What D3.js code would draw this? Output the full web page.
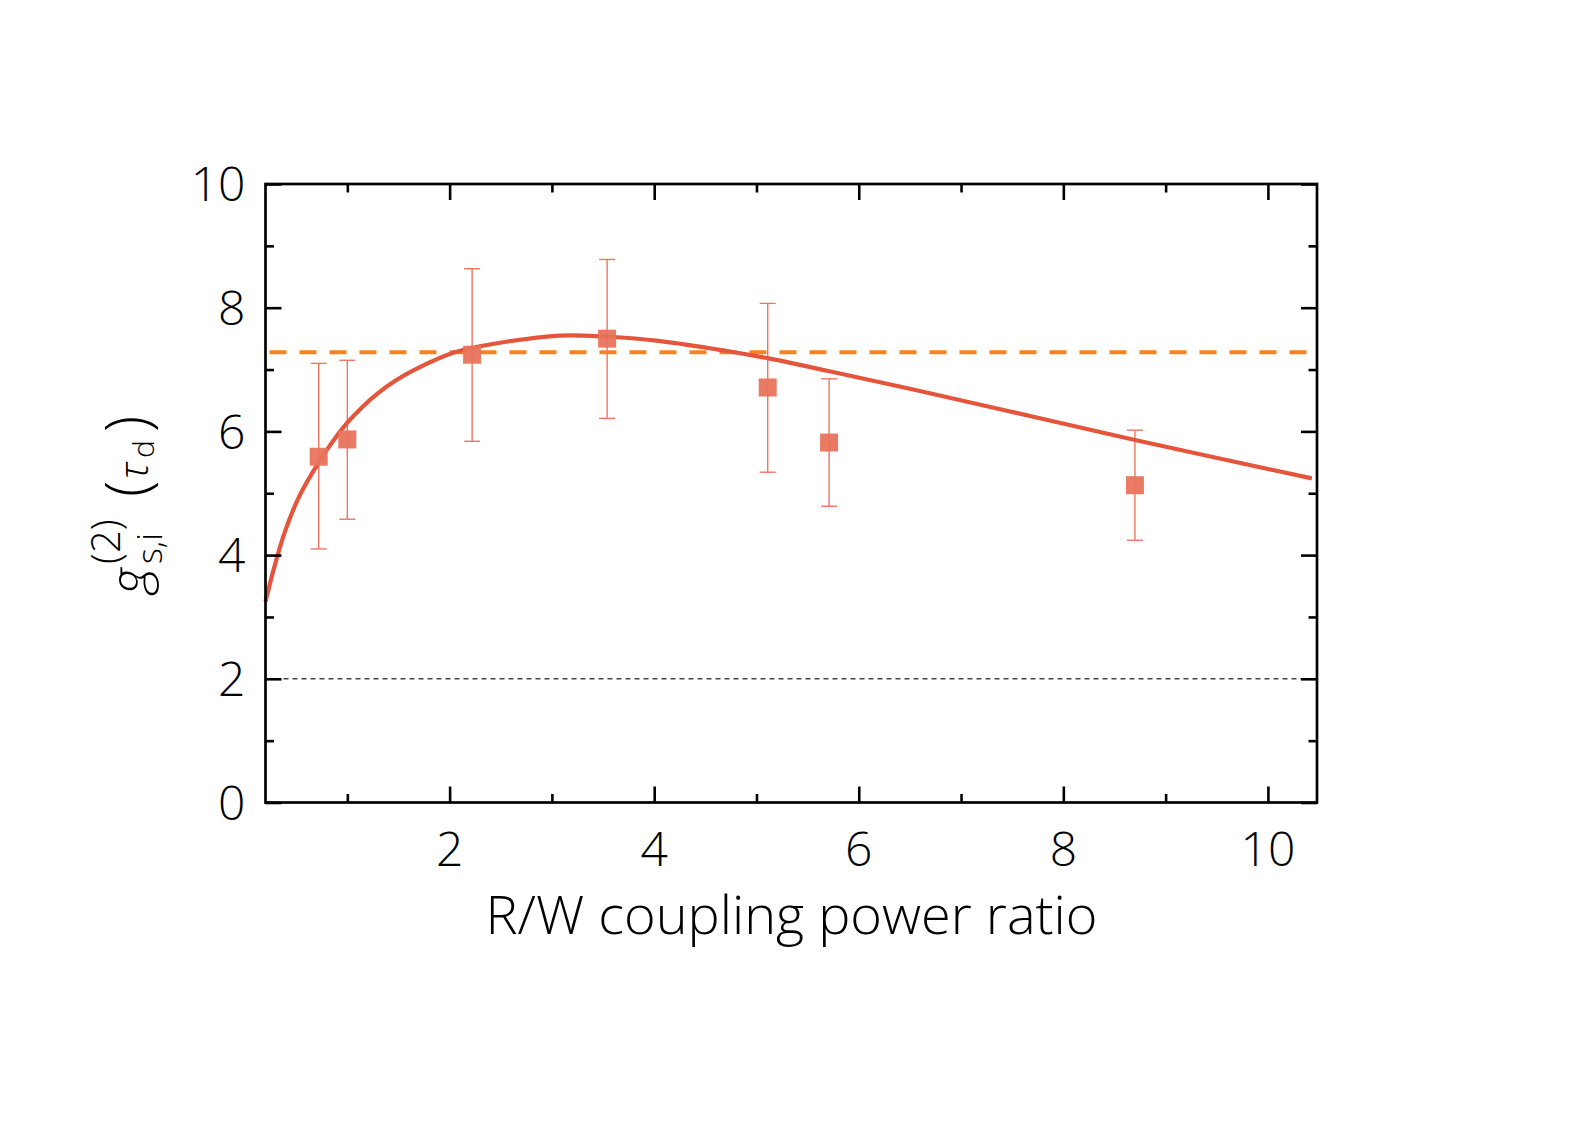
<!DOCTYPE html>
<html>
<head>
<meta charset="utf-8">
<script src="https://cdn.jsdelivr.net/npm/d3@7"></script>
<style>
  body { margin: 0; background: #fff; }
  svg { display: block; font-family: "Open Sans", "Noto Sans", sans-serif; font-weight: 300; }
</style>
</head>
<body>
<svg width="1595" height="1125"></svg>
<script>
// measured points
var pointX = [0.72, 1.0, 2.22, 3.54, 5.11, 5.71, 8.70];
var pointY = [5.59, 5.87, 7.24, 7.50, 6.71, 5.82, 5.13];
var errTop = [7.10, 7.15, 8.63, 8.78, 8.07, 6.85, 6.02];
var errBottom = [4.10, 4.58, 5.84, 6.21, 5.34, 4.79, 4.24];

// fitted curve
var fitX = [0.2, 0.29, 0.39, 0.53, 0.72, 0.85, 1.0, 1.15, 1.3, 1.48, 1.66, 2.05, 2.48, 3.08, 3.54, 4.06, 4.71, 5.12, 5.69, 6.5, 7.54, 8.7, 10.43];
var fitY = [3.25, 3.83, 4.38, 4.95, 5.5, 5.82, 6.14, 6.4, 6.62, 6.83, 7.0, 7.28, 7.43, 7.55, 7.53, 7.46, 7.3, 7.18, 6.98, 6.69, 6.3, 5.86, 5.24];

var limitLine = 7.28;   // orange dashed
var classicalLine = 2;  // grey dotted

var xTicks = [2, 4, 6, 8, 10];
var xMinor = [1, 3, 5, 7, 9];
var yTicks = [0, 2, 4, 6, 8, 10];
var yMinor = [1, 3, 5, 7, 9];

var svg = d3.select("svg"),
    margin = {top: 184, right: 278, bottom: 322.5, left: 265.5},
    width = +svg.attr("width") - margin.left - margin.right,
    height = +svg.attr("height") - margin.top - margin.bottom,
    g = svg.append("g").attr("transform", "translate(" + margin.left + "," + margin.top + ")");

var x = d3.scaleLinear().domain([0.2, 10.48]).range([0, width]),
    y = d3.scaleLinear().domain([0, 10]).range([height, 0]);

var major = 16, minor = 8.5;

// reference lines
g.append("line")
    .attr("x1", 0).attr("x2", width)
    .attr("y1", y(classicalLine)).attr("y2", y(classicalLine))
    .attr("stroke", "#444").attr("stroke-width", 1.6)
    .attr("stroke-dasharray", "5,4");

g.append("line")
    .attr("x1", 4).attr("x2", width)
    .attr("y1", y(limitLine)).attr("y2", y(limitLine))
    .attr("stroke", "#f7821f").attr("stroke-width", 4)
    .attr("stroke-dasharray", "17,13");

// error bars
var pts = pointX.map(function(d, i) {
  return {x: d, y: pointY[i], hi: errTop[i], lo: errBottom[i]};
});

var bars = g.selectAll(".err")
    .data(pts)
    .enter().append("g")
    .attr("class", "err")
    .attr("stroke", "#ef7561")
    .attr("stroke-width", 1.4);

bars.append("line")
    .attr("x1", function(d) { return x(d.x); })
    .attr("x2", function(d) { return x(d.x); })
    .attr("y1", function(d) { return y(d.hi); })
    .attr("y2", function(d) { return y(d.lo); });

bars.selectAll(".cap")
    .data(function(d) { return [{x: d.x, v: d.hi}, {x: d.x, v: d.lo}]; })
    .enter().append("line")
    .attr("x1", function(d) { return x(d.x) - 8; })
    .attr("x2", function(d) { return x(d.x) + 8; })
    .attr("y1", function(d) { return y(d.v); })
    .attr("y2", function(d) { return y(d.v); });

// fit curve
var line = d3.line()
    .curve(d3.curveCatmullRom.alpha(0.5))
    .x(function(d, i) { return x(fitX[i]); })
    .y(function(d) { return y(d); });

g.append("path")
    .datum(fitY)
    .attr("fill", "none")
    .attr("stroke", "#e4553b")
    .attr("stroke-width", 4.2)
    .attr("d", line);

// squares
g.selectAll(".pt")
    .data(pts)
    .enter().append("rect")
    .attr("class", "pt")
    .attr("x", function(d) { return x(d.x) - 9; })
    .attr("y", function(d) { return y(d.y) - 9; })
    .attr("width", 18).attr("height", 18)
    .attr("fill", "#e8735c")
    .attr("fill-opacity", 0.95);

// axes: ticks inward on all four sides
function tickSet(sel, axis, size) {
  sel.call(axis.tickSize(size).tickFormat(""))
    .call(function(s) { s.select(".domain").remove(); })
    .selectAll("line").attr("stroke", "#000").attr("stroke-width", 2.6);
}

tickSet(g.append("g").attr("transform", "translate(0," + height + ")"),
        d3.axisTop(x).tickValues(xTicks), major);
tickSet(g.append("g").attr("transform", "translate(0," + height + ")"),
        d3.axisTop(x).tickValues(xMinor), minor);
tickSet(g.append("g"), d3.axisBottom(x).tickValues(xTicks), major);
tickSet(g.append("g"), d3.axisBottom(x).tickValues(xMinor), minor);
tickSet(g.append("g"), d3.axisRight(y).tickValues(yTicks), major);
tickSet(g.append("g"), d3.axisRight(y).tickValues(yMinor), minor);
tickSet(g.append("g").attr("transform", "translate(" + width + ",0)"),
        d3.axisLeft(y).tickValues(yTicks), major);
tickSet(g.append("g").attr("transform", "translate(" + width + ",0)"),
        d3.axisLeft(y).tickValues(yMinor), minor);

g.append("rect")
    .attr("width", width).attr("height", height)
    .attr("fill", "none").attr("stroke", "#000").attr("stroke-width", 2.7);

// tick labels
g.selectAll(".xlab")
    .data(xTicks)
    .enter().append("text")
    .attr("x", function(d) { return x(d); })
    .attr("y", height + 63.5)
    .attr("text-anchor", "middle")
    .attr("font-size", 48)
    .text(function(d) { return d; });

g.selectAll(".ylab")
    .data(yTicks)
    .enter().append("text")
    .attr("x", -20)
    .attr("y", function(d) { return y(d); })
    .attr("dy", "0.36em")
    .attr("text-anchor", "end")
    .attr("font-size", 48)
    .text(function(d) { return d; });

// axis titles
svg.append("text")
    .attr("x", 791.5).attr("y", 934)
    .attr("text-anchor", "middle")
    .attr("font-size", 54)
    .attr("textLength", 612)
    .attr("lengthAdjust", "spacingAndGlyphs")
    .text("R/W coupling power ratio");

// y title g^(2)_{s,i}(tau_d), rotated; x = -(screen y), y = screen x
var yt = svg.append("g").attr("transform", "rotate(-90)");
function piece(txt, sy, sx, size, style, family) {
  yt.append("text")
      .attr("x", -sy).attr("y", sx)
      .attr("font-size", size)
      .attr("font-style", style)
      .attr("font-family", family)
      .text(txt);
}
piece("g", 594, 148, 58, "italic", "Lato, 'DejaVu Sans', sans-serif");
piece("(2)", 564, 120, 40, null, null);
piece("s,i", 564, 162, 34, null, null);
piece("(", 497, 149, 60, null, null);
piece("\u03c4", 479, 148, 40, "italic", null);
piece("d", 458, 154, 30, null, null);
piece(")", 432, 149, 60, null, null);
</script>
</body>
</html>
